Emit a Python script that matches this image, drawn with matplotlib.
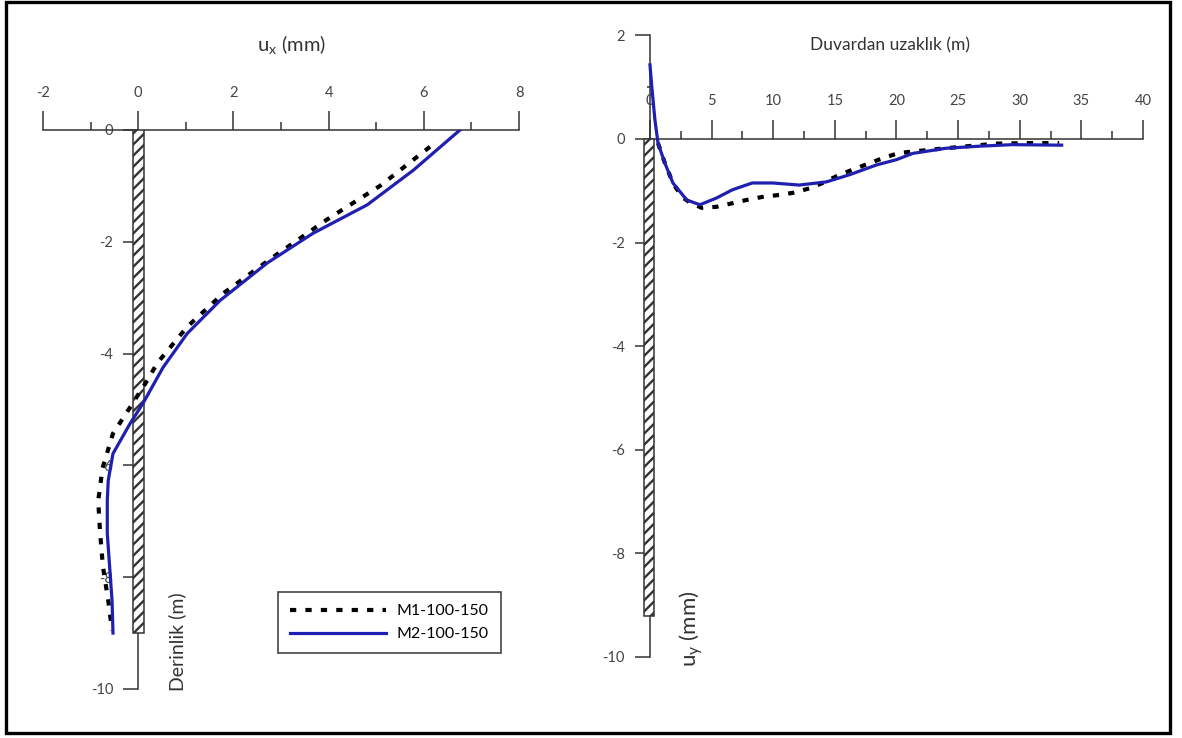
import matplotlib
matplotlib.use("Agg")
from matplotlib import pyplot as plt
from matplotlib.patches import Rectangle

plt.rcParams['font.family'] = ['Lato', 'DejaVu Sans']
plt.rcParams['axes.unicode_minus'] = False
plt.rcParams['hatch.linewidth'] = 1.7
plt.rcParams['hatch.color'] = '#333333'

# sol grafik: yatay deplasman (ux) - derinlik
ux_m1 = [6.13, 5.08, 3.97, 2.84, 1.79, 1.03, 0.40, 0.19, -0.17, -0.53, -0.75, -0.84, -0.80, -0.74, -0.63, -0.55]
derinlik_m1 = [-0.3, -1.0, -1.6, -2.27, -2.92, -3.52, -4.17, -4.48, -4.96, -5.43, -6.05, -6.63, -7.22, -7.82, -8.42, -8.95]
ux_m2 = [6.76, 5.78, 4.81, 3.67, 2.71, 1.72, 1.03, 0.52, 0.10, -0.17, -0.53, -0.63, -0.65, -0.65, -0.59, -0.55, -0.53]
derinlik_m2 = [0, -0.72, -1.34, -1.85, -2.38, -3.05, -3.64, -4.25, -4.89, -5.25, -5.79, -6.27, -6.63, -7.22, -7.94, -8.42, -9.0]

# sag grafik: duvardan uzaklik - dusey deplasman (uy)
uzaklik_m1 = [0.65, 1.2, 1.86, 2.6, 3.2, 4.2, 5.4, 6.7, 7.8, 9.1, 10.5, 11.6, 13.0, 14.0, 15.4, 16.8, 18.9, 20.2, 22.7, 25.3, 28.1, 30.8, 33.2]
uy_m1 = [-0.08, -0.46, -0.85, -1.12, -1.22, -1.33, -1.31, -1.24, -1.18, -1.12, -1.08, -1.04, -0.95, -0.85, -0.69, -0.56, -0.37, -0.27, -0.21, -0.15, -0.09, -0.08, -0.08]
uzaklik_m2 = [0, 0.15, 0.4, 0.65, 1.2, 1.86, 2.99, 4.05, 5.4, 6.7, 8.3, 9.96, 12.1, 14.3, 16.2, 18.4, 20.0, 21.3, 24.0, 26.7, 29.4, 33.4]
uy_m2 = [1.43, 1.0, 0.37, -0.08, -0.46, -0.85, -1.18, -1.27, -1.14, -0.98, -0.85, -0.85, -0.89, -0.83, -0.69, -0.50, -0.40, -0.28, -0.18, -0.14, -0.11, -0.12]

etiketler = ["M1-100-150", "M2-100-150"]
duvar_derinligi = 9

W, H = 1182, 738


def px(x, y):
    return x / W, 1 - y / H


fig = plt.figure(figsize=(W / 100, H / 100), dpi=100)
fig.patches.append(Rectangle((6 / W, 1 - 733 / H), 1164 / W, 731 / H, transform=fig.transFigure,
                             fill=False, edgecolor="black", linewidth=2.4))

nokta = dict(color="black", linewidth=3, linestyle=(0, (1.5, 2.2)), zorder=3)
duz = dict(color="#1f1fb0", linewidth=2.3, zorder=4)


def eksen_stili(ax):
    ax.spines['right'].set_visible(False)
    ax.spines['bottom'].set_visible(False)
    for s in ['left', 'top']:
        ax.spines[s].set_color('#333333')
        ax.spines[s].set_linewidth(1.1)
    ax.xaxis.tick_top()
    ax.tick_params(axis='both', which='both', colors='#333333', labelcolor='#444444', labelsize=10.5, width=1.1)
    ax.tick_params(axis='x', which='major', length=13.5, pad=8)
    ax.tick_params(axis='x', which='minor', length=5.5)
    ax.tick_params(axis='y', which='major', length=11, pad=7)
    ax.patch.set_visible(False)


# --- sol grafik
ax1 = fig.add_axes([0.0364, 0.0664, 0.4027, 0.7575])
ax1.set_xlim(-2, 8)
ax1.set_ylim(-10, 0)
eksen_stili(ax1)
ax1.spines['left'].set_position(('data', 0))
ax1.set_xticks(range(-2, 9, 2))
ax1.set_xticks(range(-1, 8, 2), minor=True)
ax1.set_yticks(range(-10, 1, 2))
ax1.add_patch(Rectangle((-0.11, -duvar_derinligi), 0.23, duvar_derinligi, facecolor="white",
                        edgecolor="#333333", hatch="///", linewidth=1.1, zorder=2.6))
ax1.plot(ux_m1, derinlik_m1, label=etiketler[0], **nokta)
ax1.plot(ux_m2, derinlik_m2, label=etiketler[1], **duz)
ax1.legend(loc="upper left", bbox_to_anchor=px(278, 592), bbox_transform=fig.transFigure,
           borderaxespad=0, fontsize=11.5, handlelength=6.0, handletextpad=0.7, borderpad=0.75,
           labelspacing=0.55, fancybox=False, framealpha=1, edgecolor="#444444")
ax1.get_legend().get_frame().set_linewidth(1.2)

fig.text(*px(291, 45), "u$_\\mathregular{x}$ (mm)", ha="center", va="center", fontsize=14.5, color="#333333")
fig.text(*px(177, 691), "Derinlik (m)", rotation=90, ha="center", va="bottom", fontsize=14, color="#333333")

# --- sag grafik
ax2 = fig.add_axes([0.5499, 0.1098, 0.4171, 0.8423])
ax2.set_xlim(0, 40)
ax2.set_ylim(-10, 2)
eksen_stili(ax2)
ax2.spines['top'].set_position(('data', 0))
ax2.set_xticks(range(0, 41, 5))
ax2.set_xticks([2.5 + 5 * i for i in range(8)], minor=True)
ax2.set_yticks(range(-10, 3, 2))
ax2.set_yticks(range(-9, 2, 2), minor=True)
ax2.tick_params(axis='y', which='minor', length=2)
ax2.tick_params(axis='x', which='major', pad=9)
ax2.add_patch(Rectangle((-0.45, -duvar_derinligi - 0.2), 0.8, duvar_derinligi + 0.2, facecolor="white",
                        edgecolor="#333333", hatch="///", linewidth=1.1, zorder=2.6, clip_on=False))
ax2.plot(uzaklik_m1, uy_m1, clip_on=False, **nokta)
ax2.plot(uzaklik_m2, uy_m2, clip_on=False, **duz)

fig.text(*px(890, 45), "Duvardan uzaklık (m)", ha="center", va="center", fontsize=12.5, color="#333333")
fig.text(*px(691, 667), "u$_\\mathregular{y}$ (mm)", rotation=90, ha="center", va="bottom", fontsize=16, color="#333333")

plt.savefig("out.png", dpi=100)
